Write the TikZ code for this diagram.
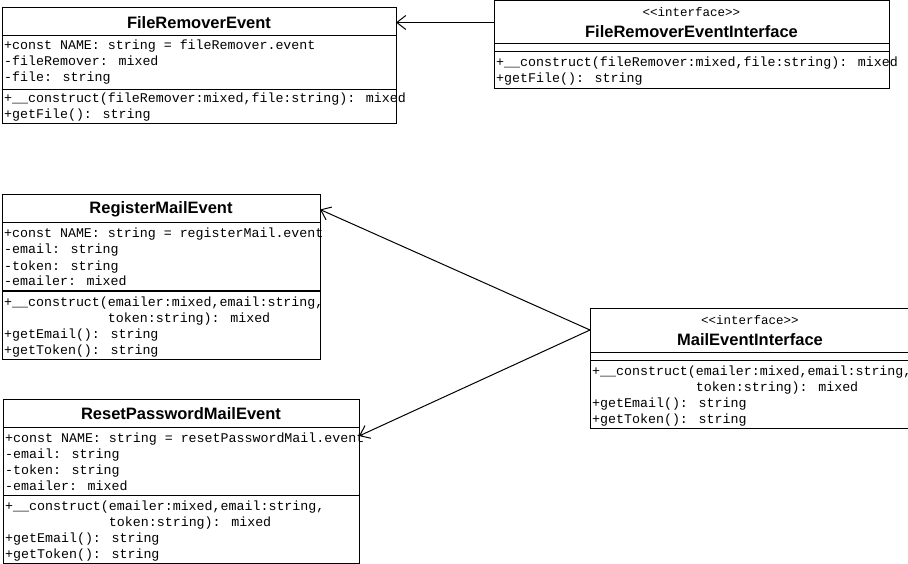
\documentclass[tikz,border=0pt]{standalone}
\usepackage{fontspec}
\setmainfont{Liberation Sans}
\newfontfamily\monof{Liberation Mono}
\usetikzlibrary{arrows.meta}
\begin{document}
\begin{tikzpicture}[x=1pt,y=-1pt,
  box/.style={draw, line width=1pt, anchor=north west, inner sep=0pt, outer sep=0pt, fill=white},
  ttl/.style={font=\fontsize{16.5}{18}\selectfont\bfseries, inner sep=0pt, outer sep=0pt, anchor=north west},
  ster/.style={font=\monof\fontsize{12.5}{14}\selectfont, inner sep=0pt},
  mem/.style={font=\monof\fontsize{13.3}{16}\selectfont, inner sep=0pt, anchor=west, text height=11pt, text depth=1pt},
  sep/.style={line width=1pt},
  rel/.style={line width=1pt, -{Straight Barb[length=9pt,width=14pt]}}]
\useasboundingbox (0,0) rectangle (908,564);
\fill[white] (0,0) rectangle (908,564);

% ---------- FileRemoverEvent
\node[box, minimum width=394pt, minimum height=116pt] (fre) at (2,8) {};
\node[ttl, minimum width=394pt, minimum height=29pt] (freT) at (2,8) {FileRemoverEvent};
\draw[sep] (2,36) -- (396,36);
\draw[sep] (2,90) -- (396,90);
\node[mem] (fre1) at (4,45) {+const NAME: string = fileRemover.event};
\node[mem] (fre2) at (4,61) {-fileRemover: mixed};
\node[mem] (fre3) at (4,77) {-file: string};
\node[mem] (fre4) at (4,98) {+\_\_construct(fileRemover:mixed,file:string): mixed};
\node[mem] (fre5) at (4,114) {+getFile(): string};

% ---------- FileRemoverEventInterface
\node[box, minimum width=395pt, minimum height=88pt] (frei) at (494,0.5) {};
\node[ttl, minimum width=395pt, minimum height=44pt] (freiT) at (494,0.5) {};
\node[ster] (frei0) at (691.5,12.5) {<<interface>>};
\node[font=\fontsize{16.5}{18}\selectfont\bfseries, inner sep=0pt] (frei00) at (691.5,31.5) {FileRemoverEventInterface};
\draw[sep] (494,44) -- (889,44);
\draw[sep] (494,52) -- (889,52);
\node[mem] (frei1) at (496,62) {+\_\_construct(fileRemover:mixed,file:string): mixed};
\node[mem] (frei2) at (496,78) {+getFile(): string};

% ---------- RegisterMailEvent
\node[box, minimum width=318pt, minimum height=164pt] (rme) at (2,195) {};
\node[ttl, minimum width=318pt, minimum height=29pt] (rmeT) at (2,195) {RegisterMailEvent};
\draw[sep] (2,223) -- (320,223);
\draw[sep] (2,291) -- (320,291);
\node[mem] (rme1) at (4,233) {+const NAME: string = registerMail.event};
\node[mem] (rme2) at (4,249) {-email: string};
\node[mem] (rme3) at (4,265) {-token: string};
\node[mem] (rme4) at (4,281) {-emailer: mixed};
\node[mem] (rme5) at (4,301) {+\_\_construct(emailer:mixed,email:string,};
\node[mem] (rme6) at (4,317) {\phantom{+\_\_construct(}token:string): mixed};
\node[mem] (rme7) at (4,333) {+getEmail(): string};
\node[mem] (rme8) at (4,349) {+getToken(): string};

% ---------- ResetPasswordMailEvent
\node[box, minimum width=356pt, minimum height=164pt] (rpe) at (3,399) {};
\node[ttl, minimum width=356pt, minimum height=29pt] (rpeT) at (3,399) {ResetPasswordMailEvent};
\draw[sep] (3,427) -- (359,427);
\draw[sep] (3,495) -- (359,495);
\node[mem] (rpe1) at (5,437) {+const NAME: string = resetPasswordMail.event};
\node[mem] (rpe2) at (5,453) {-email: string};
\node[mem] (rpe3) at (5,469) {-token: string};
\node[mem] (rpe4) at (5,485) {-emailer: mixed};
\node[mem] (rpe5) at (5,505) {+\_\_construct(emailer:mixed,email:string,};
\node[mem] (rpe6) at (5,521) {\phantom{+\_\_construct(}token:string): mixed};
\node[mem] (rpe7) at (5,537) {+getEmail(): string};
\node[mem] (rpe8) at (5,553) {+getToken(): string};
\coordinate (rpeIn) at (359,436);

% ---------- MailEventInterface
\node[box, minimum width=330pt, minimum height=120pt] (mei) at (590,308) {};
\node[ttl, minimum width=330pt, minimum height=44pt] (meiT) at (590,308) {};
\node[ster] (mei0) at (750,320.5) {<<interface>>};
\node[font=\fontsize{16.5}{18}\selectfont\bfseries, inner sep=0pt] (mei00) at (750,339.5) {MailEventInterface};
\draw[sep] (590,352) -- (920,352);
\draw[sep] (590,360) -- (920,360);
\node[mem] (mei1) at (592,370) {+\_\_construct(emailer:mixed,email:string,};
\node[mem] (mei2) at (592,386) {\phantom{+\_\_construct(}token:string): mixed};
\node[mem] (mei3) at (592,402) {+getEmail(): string};
\node[mem] (mei4) at (592,418) {+getToken(): string};

% ---------- relations
\draw[rel] (freiT.west) -- (freT.east);
\draw[rel] (meiT.west) -- (rmeT.east);
\draw[rel] (meiT.west) -- (rpeIn);
\end{tikzpicture}
\end{document}
